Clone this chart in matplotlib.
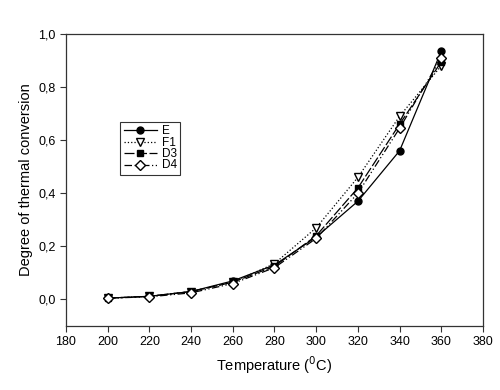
import matplotlib.pyplot as plt
from matplotlib.ticker import FuncFormatter

plt.rcParams['font.family'] = ['Liberation Sans', 'DejaVu Sans']

temps = [200, 220, 240, 260, 280, 300, 320, 340, 360]
E = [0.005, 0.012, 0.030, 0.070, 0.130, 0.235, 0.370, 0.560, 0.935]
F1 = [0.005, 0.012, 0.030, 0.065, 0.135, 0.270, 0.460, 0.690, 0.880]
D3 = [0.005, 0.012, 0.030, 0.065, 0.125, 0.240, 0.420, 0.660, 0.895]
D4 = [0.005, 0.010, 0.025, 0.060, 0.120, 0.230, 0.400, 0.645, 0.910]

fig = plt.figure(figsize=(5, 3.9), dpi=100)
ax = fig.add_axes([0.132, 0.164, 0.834, 0.749])

ax.plot(temps, E, '-', color='black', lw=0.9, marker='o', ms=5,
        mfc='black', label='E')
ax.plot(temps, F1, ':', color='black', lw=0.9, marker='v', ms=6,
        mfc='white', label='F1')
ax.plot(temps, D3, '-', color='black', lw=0.9, marker='s', ms=5,
        mfc='black', label='D3', dashes=(8, 2))
ax.plot(temps, D4, '-', color='black', lw=0.9, marker='D', ms=5,
        mfc='white', label='D4', dashes=(6, 2, 1, 2, 1, 2))

ax.set_xlim(180, 380)
ax.set_ylim(-0.1, 1.0)
ax.set_xticks(range(180, 381, 20))
ax.set_yticks([0, 0.2, 0.4, 0.6, 0.8, 1.0])
ax.yaxis.set_major_formatter(FuncFormatter(lambda v, p: f'{v:.1f}'.replace('.', ',')))
ax.tick_params(direction='out', length=4, labelsize=9, colors='#333333', labelcolor='black')
for s in ax.spines.values():
    s.set_linewidth(0.9)
    s.set_color('#333333')

ax.set_xlabel('Temperature ($^0$C)', fontsize=10.5)
ax.set_ylabel('Degree of thermal conversion', fontsize=10.5)

leg = ax.legend(loc='upper left', bbox_to_anchor=(0.13, 0.70), fontsize=8.5,
                frameon=True, fancybox=False, edgecolor='black',
                handlelength=2.8, handleheight=0.5, borderpad=0.3,
                labelspacing=-0.05, handletextpad=0.4, borderaxespad=0)
leg.get_frame().set_linewidth(0.8)

fig.savefig('out.png', dpi=100)
